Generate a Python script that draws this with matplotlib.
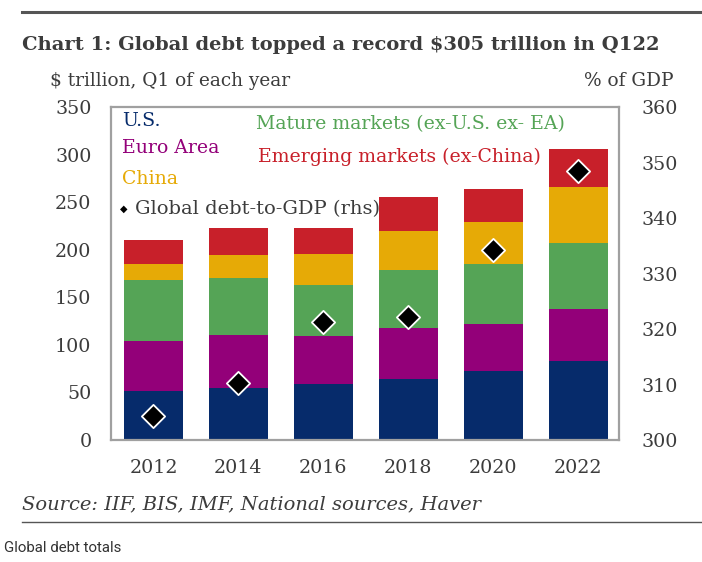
import matplotlib
matplotlib.use("Agg")
import matplotlib.pyplot as plt
from matplotlib.lines import Line2D

years = ["2012", "2014", "2016", "2018", "2020", "2022"]
us = [52, 55, 59, 64, 72, 83]
euro_area = [52, 55, 50, 54, 50, 55]
mature = [64, 60, 54, 61, 63, 69]
china = [17, 24, 32, 41, 44, 59]
emerging = [25, 29, 28, 35, 35, 40]
debt_to_gdp = [304.4, 310.3, 321.3, 322.1, 334.2, 348.4]

c_us = "#062b6b"
c_ea = "#930079"
c_mature = "#55a456"
c_china = "#e6aa06"
c_em = "#c8202a"
c_text = "#3c3c3c"

W, H = 702, 562
fig = plt.figure(figsize=(W / 100, H / 100), dpi=100)
serif = ["DejaVu Serif"]
fs = 13.6

def fx(px):
    return px / W

def fy(py):
    return 1 - py / H

ax = fig.add_axes([fx(111), fy(440), fx(619) - fx(111), fy(107) - fy(440)])
x = list(range(len(years)))
bottom = [0] * len(years)
for vals, col in [(us, c_us), (euro_area, c_ea), (mature, c_mature),
                  (china, c_china), (emerging, c_em)]:
    ax.bar(x, vals, width=0.69, bottom=bottom, color=col, zorder=2)
    bottom = [b + v for b, v in zip(bottom, vals)]

ax.set_xlim(-0.5, 5.48)
ax.set_ylim(0, 350)
ax.set_yticks(range(0, 351, 50))
ax.set_xticks(x)
ax.set_xticklabels(years)
ax.tick_params(length=0, labelsize=13.7, colors=c_text)
ax.tick_params(axis="x", pad=14)
ax.tick_params(axis="y", pad=14)
for lab in ax.get_xticklabels() + ax.get_yticklabels():
    lab.set_family(serif)
for s in ax.spines.values():
    s.set_color("#a0a0a0")
    s.set_linewidth(1.6)

ax2 = ax.twinx()
ax2.set_ylim(300, 360)
ax2.set_yticks(range(300, 361, 10))
ax2.scatter(x, debt_to_gdp, marker="D", s=140, color="black",
            edgecolor="white", linewidth=1.3, zorder=5)
ax2.tick_params(length=0, labelsize=13.7, colors=c_text, pad=16)
for lab in ax2.get_yticklabels():
    lab.set_family(serif)
for s in ax2.spines.values():
    s.set_visible(False)

# legend texts
fig.text(fx(122), fy(121), "U.S.", color=c_us, fontsize=fs, family=serif, va="center")
fig.text(fx(122), fy(148), "Euro Area", color=c_ea, fontsize=fs, family=serif, va="center")
fig.text(fx(122), fy(179), "China", color=c_china, fontsize=fs, family=serif, va="center")
fig.text(fx(124), fy(209), "\u25c6", color="black", fontsize=7, family=serif, va="center", ha="center")
fig.text(fx(135), fy(209), "Global debt-to-GDP (rhs)", color=c_text, fontsize=14, family=serif, va="center")
fig.text(fx(256), fy(124), "Mature markets (ex-U.S. ex- EA)", color=c_mature, fontsize=fs, family=serif, va="center")
fig.text(fx(258), fy(157), "Emerging markets (ex-China)", color=c_em, fontsize=fs, family=serif, va="center")

# titles and notes
fig.text(fx(22), fy(45), "Chart 1: Global debt topped a record $305 trillion in Q122",
         color=c_text, fontsize=14, fontweight="bold", family=serif, va="center")
fig.text(fx(50), fy(81), "$ trillion, Q1 of each year", color=c_text, fontsize=13.3, family=serif, va="center")
fig.text(fx(673), fy(81), "% of GDP", color=c_text, fontsize=13.3, family=serif, va="center", ha="right")
fig.text(fx(22), fy(504), "Source: IIF, BIS, IMF, National sources, Haver", color=c_text,
         fontsize=14, style="italic", family=serif, va="center")
fig.text(fx(4), fy(548), "Global debt totals", color="#333333", fontsize=10.8,
         family=["Roboto", "DejaVu Sans"], va="center")

fig.add_artist(Line2D([fx(22), 1], [fy(12), fy(12)], color="#555555", linewidth=2.2))
fig.add_artist(Line2D([fx(22), 1], [fy(522), fy(522)], color="#555555", linewidth=1))

fig.savefig("out.png", dpi=100)
